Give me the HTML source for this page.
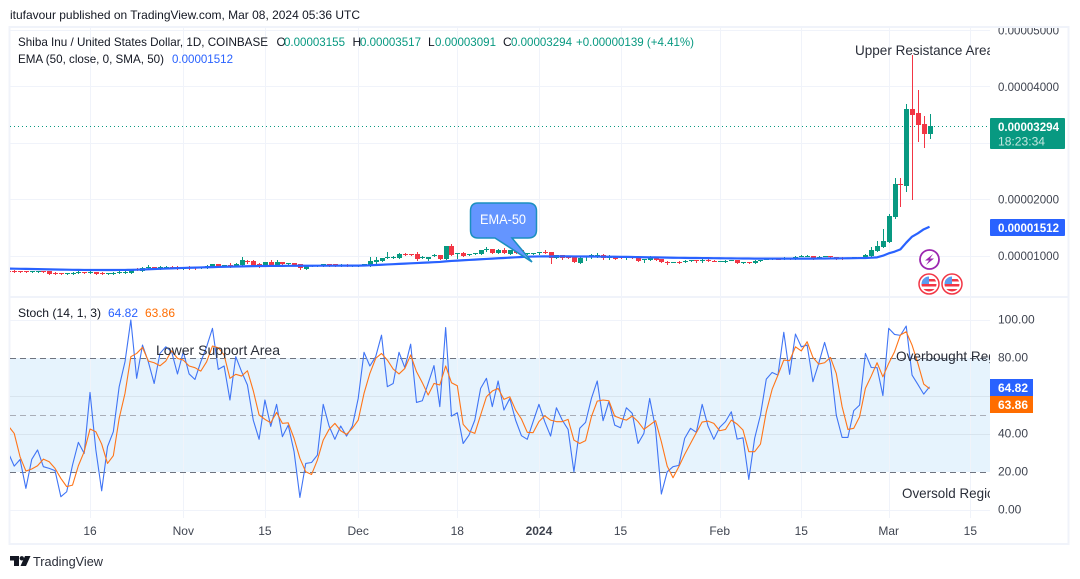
<!DOCTYPE html>
<html lang="en">
<head>
<meta charset="utf-8">
<title>Shiba Inu / United States Dollar chart</title>
<style>
html,body{margin:0;padding:0;background:#fff;width:1080px;height:579px;overflow:hidden}
svg{display:block;font-family:"Liberation Sans",sans-serif}
text{font-size:12px;fill:#131722}
.ax{fill:#3f4450;font-size:12px}
.ann{font-size:14px;fill:#2a2e39}
</style>
</head>
<body>
<svg id="chart" width="1080" height="579" viewBox="0 0 1080 579" xmlns="http://www.w3.org/2000/svg">
  <defs>
    <clipPath id="clip-top"><rect x="10" y="28" width="980" height="268"/></clipPath>
    <clipPath id="clip-bottom"><rect x="10" y="298" width="980" height="220"/></clipPath>
    <clipPath id="clip-axis"><rect x="990" y="28" width="78" height="268"/></clipPath>
    <clipPath id="clip-flag-a"><circle cx="929" cy="284" r="7.5"/></clipPath>
    <clipPath id="clip-flag-b"><circle cx="952" cy="284" r="7.5"/></clipPath>
  </defs>

  <text x="10" y="19" textLength="350" lengthAdjust="spacingAndGlyphs">itufavour published on TradingView.com, Mar 08, 2024 05:36 UTC</text>

  <rect x="9.5" y="27" width="1059" height="517" fill="#fff" stroke="#F0F3FA" stroke-width="2"/>
  <rect x="10" y="296" width="1058" height="2" fill="#F0F3FA"/>

  <rect x="10" y="358" width="980" height="114" fill="#E6F3FD"/>
  <g id="grid"></g>
  <g id="bands"></g>

  <line x1="10" x2="990" y1="126.500" y2="126.500" stroke="#089981" stroke-width="1" stroke-dasharray="1 3"/>

  <g clip-path="url(#clip-top)">
    <g id="candles"></g>
    <path id="ema-line" fill="none" stroke="#2962FF" stroke-width="2.200" stroke-linejoin="round"/>
    <text class="ann" x="855" y="55" textLength="139" lengthAdjust="spacingAndGlyphs">Upper Resistance Area</text>
  </g>

  <g>
    <path d="M478 203 H528 Q536.500 203 536.500 211 V230 Q536.500 238 528 238 H512 L532 262 L495 238 H478 Q470.500 238 470.500 230 V211 Q470.500 203 478 203 Z" fill="#6495FF" stroke="#1B8FBF" stroke-width="1.500"/>
    <text x="480" y="224" textLength="46" lengthAdjust="spacingAndGlyphs" style="font-size:14px;fill:#fff">EMA-50</text>
  </g>

  <g>
    <circle cx="929.500" cy="259.500" r="9.500" fill="#fff" stroke="#9C27B0" stroke-width="1.800"/>
    <polygon points="933,254 925,260.500 929,260.500 926,265 934,258.500 930,258.500" fill="#9C27B0"/>
  </g>
  <g>
    <circle cx="929" cy="284" r="10" fill="#fff" stroke="#F23645" stroke-width="1.500"/>
    <g clip-path="url(#clip-flag-a)">
      <rect x="921" y="276" width="16" height="16" fill="#fff"/>
      <rect x="921" y="279" width="16" height="2.500" fill="#F23645"/>
      <rect x="921" y="284" width="16" height="2.500" fill="#F23645"/>
      <rect x="921" y="289" width="16" height="3" fill="#F23645"/>
      <rect x="921" y="276" width="8" height="8" fill="#5B9CF0"/>
    </g>
  </g>
  <g>
    <circle cx="952" cy="284" r="10" fill="#fff" stroke="#F23645" stroke-width="1.500"/>
    <g clip-path="url(#clip-flag-b)">
      <rect x="944" y="276" width="16" height="16" fill="#fff"/>
      <rect x="944" y="279" width="16" height="2.500" fill="#F23645"/>
      <rect x="944" y="284" width="16" height="2.500" fill="#F23645"/>
      <rect x="944" y="289" width="16" height="3" fill="#F23645"/>
      <rect x="944" y="276" width="8" height="8" fill="#5B9CF0"/>
    </g>
  </g>

  <g clip-path="url(#clip-bottom)">
    <path id="stoch-k" fill="none" stroke="#3F74F5" stroke-width="1.100" stroke-linejoin="round"/>
    <path id="stoch-d" fill="none" stroke="#FF7518" stroke-width="1.100" stroke-linejoin="round"/>
    <text class="ann" x="156" y="355" textLength="124" lengthAdjust="spacingAndGlyphs">Lower Support Area</text>
    <text class="ann" x="896" y="361" textLength="118" lengthAdjust="spacingAndGlyphs">Overbought Region</text>
    <text class="ann" x="902" y="498" textLength="100" lengthAdjust="spacingAndGlyphs">Oversold Region</text>
  </g>

  <g>
    <text x="18" y="46" textLength="250" lengthAdjust="spacingAndGlyphs">Shiba Inu / United States Dollar, 1D, COINBASE</text>
    <text x="276.500" y="46">O</text>
    <text x="284" y="46" textLength="61" lengthAdjust="spacingAndGlyphs" style="fill:#089981">0.00003155</text>
    <text x="352.500" y="46">H</text>
    <text x="360" y="46" textLength="61" lengthAdjust="spacingAndGlyphs" style="fill:#089981">0.00003517</text>
    <text x="428" y="46">L</text>
    <text x="435" y="46" textLength="61" lengthAdjust="spacingAndGlyphs" style="fill:#089981">0.00003091</text>
    <text x="503" y="46">C</text>
    <text x="511" y="46" textLength="61" lengthAdjust="spacingAndGlyphs" style="fill:#089981">0.00003294</text>
    <text x="576" y="46" textLength="118" lengthAdjust="spacingAndGlyphs" style="fill:#089981">+0.00000139 (+4.41%)</text>
    <text x="18" y="63" textLength="146" lengthAdjust="spacingAndGlyphs">EMA (50, close, 0, SMA, 50)</text>
    <text x="172" y="63" textLength="61" lengthAdjust="spacingAndGlyphs" style="fill:#2962FF">0.00001512</text>
    <text x="18" y="317" textLength="83" lengthAdjust="spacingAndGlyphs">Stoch (14, 1, 3)</text>
    <text x="108" y="317" textLength="30" lengthAdjust="spacingAndGlyphs" style="fill:#2962FF">64.82</text>
    <text x="145" y="317" textLength="30" lengthAdjust="spacingAndGlyphs" style="fill:#FF6D00">63.86</text>
  </g>

  <g id="price-axis" clip-path="url(#clip-axis)"></g>
  <g id="stoch-axis"></g>
  <g id="time-axis"></g>

  <g>
    <rect x="990" y="118" width="75" height="31" rx="1" fill="#089981"/>
    <text x="998" y="131" textLength="61" lengthAdjust="spacingAndGlyphs" style="fill:#fff;font-weight:bold">0.00003294</text>
    <text x="998" y="145.500" textLength="47" lengthAdjust="spacingAndGlyphs" style="fill:#C5E8E0">18:23:34</text>
  </g>
  <g>
    <rect x="990" y="219" width="75" height="17" rx="1" fill="#2962FF"/>
    <text x="998" y="232" textLength="61" lengthAdjust="spacingAndGlyphs" style="fill:#fff;font-weight:bold">0.00001512</text>
  </g>
  <g>
    <rect x="990" y="379" width="43" height="17" fill="#2962FF"/>
    <text x="998" y="392" textLength="30" lengthAdjust="spacingAndGlyphs" style="fill:#fff;font-weight:bold">64.82</text>
  </g>
  <g>
    <rect x="990" y="396" width="43" height="17" fill="#FF6D00"/>
    <text x="998" y="409" textLength="30" lengthAdjust="spacingAndGlyphs" style="fill:#fff;font-weight:bold">63.86</text>
  </g>

  <g>
    <path d="M10 556 H19 V566 H14 V560.500 H10 Z" fill="#131722"/>
    <circle cx="21.800" cy="558.300" r="2.200" fill="#131722"/>
    <polygon points="25,556 30.500,556 26,566 20.500,566" fill="#131722"/>
    <text x="33" y="566" textLength="70" lengthAdjust="spacingAndGlyphs" style="font-size:13px;fill:#2a2e39">TradingView</text>
  </g>
</svg>

<script>
const opens = [
727,727,721,721,715,715,721,721,692,686,
680,680,697,703,697,703,692,680,686,697,
709,692,757,733,786,792,763,786,792,792,
757,792,792,786,786,798,851,822,833,822,
839,898,898,851,816,887,833,887,863,869,
845,768,822,822,816,851,845,816,833,822,
822,833,822,893,898,952,958,963,1028,1028,
1034,958,940,993,1005,946,1170,1046,1052,1023,
1028,1034,1111,1117,1052,1100,1028,1094,1094,1040,
1028,1040,1064,1058,952,1011,993,975,863,975,
981,981,1005,963,993,975,969,975,958,928,
928,969,940,881,881,887,881,910,916,898,
916,904,898,898,916,922,881,887,875,910,
940,946,946,940,958,946,987,993,993,963,
987,993,975,963,952,963,969,963,998,1087,
1158,1247,1678,2269,2240,3593,3522,3333,3155];
const highs = [
745,745,727,727,727,727,727,721,703,692,
686,703,733,709,727,709,709,692,709,745,
745,757,780,798,828,798,810,810,810,810,
792,816,798,798,833,851,851,828,869,869,
975,922,922,869,887,922,922,887,869,869,
851,810,828,839,857,857,851,845,851,833,
839,845,969,969,952,1070,999,1040,1046,1034,
1058,993,981,1023,1011,1170,1200,1052,1064,1034,
1052,1100,1147,1123,1117,1129,1094,1106,1100,1052,
1052,1070,1094,1064,1011,1017,999,981,975,993,
1023,1040,1028,1011,999,981,981,981,963,940,
993,975,946,904,893,904,922,922,922,952,
963,922,910,916,928,922,893,893,922,928,
952,963,958,969,963,987,1011,1011,999,987,
999,999,981,969,963,975,981,1028,1158,1259,
1465,1737,2370,2370,3688,4556,3936,3475,3517];
const lows = [
715,709,715,715,709,715,715,674,680,680,
680,674,697,697,686,680,674,680,674,697,
697,692,739,733,757,757,763,786,786,757,
757,757,757,786,786,798,798,822,798,822,
839,869,833,798,816,833,833,851,833,833,
768,768,816,822,816,816,816,816,822,822,
822,833,822,875,898,952,958,952,1005,1005,
922,958,922,993,946,946,1011,963,999,1011,
1028,1034,1082,1052,1052,1052,1028,1046,1034,1023,
1028,1028,1052,863,952,940,952,893,863,922,
952,975,934,946,946,952,946,958,910,893,
928,928,893,857,881,875,881,910,893,887,
910,898,898,892,916,875,875,875,875,910,
940,946,934,940,940,946,987,993,934,952,
987,952,940,946,952,963,969,963,998,1087,
1158,1247,1660,1885,2145,2003,3038,2931,3091];
const closes = [
721,715,715,715,721,721,715,674,680,680,
686,692,709,697,703,680,686,692,692,709,
715,757,739,780,792,757,798,792,786,757,
792,786,786,798,822,851,798,828,828,851,
922,887,833,816,887,833,887,851,869,833,
774,810,828,828,857,816,816,839,822,833,
839,845,904,922,952,975,969,1034,1005,1005,
934,969,981,1011,946,1170,1011,1052,999,1028,
1046,1100,1123,1052,1100,1052,1094,1046,1034,1046,
1046,1064,1052,952,1011,963,952,893,963,987,
1011,1017,958,999,946,952,975,958,910,934,
969,928,893,875,887,875,904,916,904,922,
910,898,904,910,922,875,887,875,904,922,
946,952,934,958,940,975,999,999,952,975,
993,975,940,946,958,969,975,1011,1099,1170,
1259,1702,2269,2257,3599,3493,3315,3155,3294];
const emaValues = [
770,768,766,764,762,760,758,756,754,752,
750,748,747,746,745,745,745,745,745,746,
746,747,750,754,758,762,766,770,774,778,
781,784,787,790,793,796,799,802,805,807,
809,811,813,815,816,817,818,818,819,819,
820,820,820,821,821,821,821,822,822,822,
822,824,828,833,838,843,848,853,858,863,
868,873,878,883,888,898,905,911,917,923,
929,935,941,947,953,958,964,970,975,981,
983,985,986,985,986,987,986,985,984,984,
984,983,981,980,979,978,977,975,973,971,
969,968,966,964,962,961,960,958,957,956,
955,954,953,952,951,950,949,948,947,946,
946,946,946,946,946,946,946,947,947,948,
949,950,951,952,953,954,956,958,
963,969,998,1040,1070,1111,1229,1336,1395,1466,1512];
const stochK = [
30,23.1,26.6,11.4,26.6,31.6,22.8,21.9,20.7,7,
9.6,23.7,35.6,29.8,61.9,31.6,10.1,33.3,41.2,64.9,
78,100,69.3,86.8,78,66.6,82.4,85.9,83.3,71.6,
83.3,71.6,68.7,78,85.9,95.6,74,75.8,57.9,80.7,
72.8,65.8,47.3,37.2,57.9,44,55.6,38.6,44.7,30.7,
6.6,24.5,25,28.9,55.6,44.2,37.2,44.2,38.9,44.2,
58.7,83,75.8,80.7,92,64.9,66.6,83,74.9,87.3,
56.6,57.5,66.6,76,54.4,96,49.4,51.2,35,39.4,
47.3,64,69.3,54.4,67.9,52.6,58.7,47.3,39.1,37.2,
46.5,55.6,46.5,38.9,53.8,47.3,42.4,20.1,43,46.1,
58.7,67.9,47,57,44.7,43.3,53.8,50.9,35,40.3,
58.7,43,8.4,20.1,22.8,23.5,37.7,43,40.9,55.6,
44.2,37.2,43.5,46.5,51.7,37.3,38,16.1,37.7,50,
68.9,72.4,71,93.5,71.4,92.6,85.9,86.8,67.5,77.2,
88.2,77.2,50,38.2,38.2,52.3,55.2,82.4,75,74.9,
60.2,95.6,92.4,91.9,96.8,71,66.1,61,64.82];
const stochD = [
44.2,40.3,28,20.5,21.6,23.3,26.8,25.4,21.9,16.6,
12.3,13.1,23.3,30.7,42.6,41.2,34.7,24.5,28.6,48.2,
61.4,80.7,82.4,85.6,78.4,77.5,75.9,78.4,83.8,79.8,
78.9,75.8,74.9,73.1,78,86.3,85.4,81.6,69.3,71.4,
70.5,73.3,62.8,50,47.7,45.9,51.4,45.6,45.9,37.7,
27.2,20.1,18.7,26.3,36.8,42.4,45.6,41.7,39.8,43,
47.3,61.4,71.9,79.8,82.4,78.9,74.2,71.6,74.5,81.6,
72.8,67,60.5,66.6,65.8,75.8,67,65.4,45.1,41.6,
40.3,50,59.6,62.6,64,58.2,59.6,52.6,47.9,40.9,
40.7,46.5,49.6,47.3,46.5,46.5,47.7,36.8,35,36.5,
49.1,57.3,57.9,57.5,49.4,48.2,47.3,49.4,46.5,42.4,
44.7,47,35.9,23.1,17,22.8,29.3,35,40.7,46.3,
46.8,45.6,41.7,42.4,47.3,45.2,42.1,30.7,30.7,34.7,
51.7,63.5,71,78.9,78.6,85.9,83.7,88.6,80.3,76.8,
77.5,80.3,71.9,54.4,42.4,43,49.1,64,70.5,77.5,
70.1,77.2,83.3,92.1,93.8,86.8,77.2,66.3,63.86];
const priceTicks = [5000, 4000, 2000, 1000];
const priceGrid = [5000, 4000, 3000, 2000, 1000];
const stochTicks = [100, 80, 60, 40, 20, 0];
const stochGrid = [100, 60, 40, 0];
const bandLevels = [80, 50, 20];
const timeLabels = ['16', 'Nov', '15', 'Dec', '18', '2024', '15', 'Feb', '15', 'Mar', '15'];
const timeBars = [14, 30, 44, 60, 77, 91, 105, 122, 136, 151, 165];

const NS = 'http://www.w3.org/2000/svg';
const xAt = i => 8.4 + 5.83 * i;
const priceY = v => 255.6 - (v - 1000) * 0.0564;
const stochY = v => 510 - v * 1.9;
const make = (tag, attrs, parent, txt) => {
  const el = document.createElementNS(NS, tag);
  for (const k in attrs) el.setAttribute(k, attrs[k]);
  if (txt !== undefined) el.textContent = txt;
  parent.appendChild(el);
  return el;
};
const lineD = (vals, yFn) => vals.map((v, i) => (i ? 'L' : 'M') + xAt(i).toFixed(2) + ' ' + yFn(v).toFixed(2)).join('');

const grid = document.getElementById('grid');
timeBars.forEach(b => {
  const x = Math.round(xAt(b)) + 0.5;
  const el = make('line', {x1: x, x2: x, y1: 28, y2: 518, stroke: '#F0F3FA', 'stroke-width': 1}, grid);
  
  
});
priceGrid.forEach(v => {
  const y = Math.round(priceY(v)) + 0.5;
  const el = make('line', {x1: 10, x2: 990, y1: y, y2: y, stroke: '#F0F3FA', 'stroke-width': 1}, grid);
  
  
});
stochGrid.forEach(v => {
  const y = Math.round(stochY(v)) + 0.5;
  const el = make('line', {x1: 10, x2: 990, y1: y, y2: y, stroke: v === 60 || v === 40 ? '#D8E4EE' : '#F0F3FA', 'stroke-width': 1}, grid);
  
  
});

const bands = document.getElementById('bands');
bandLevels.forEach(v => {
  const y = Math.round(stochY(v)) + 0.5;
  const el = make('line', {x1: 10, x2: 990, y1: y, y2: y, stroke: v === 50 ? '#A9AEB8' : '#6F7480', 'stroke-width': 1, 'stroke-dasharray': '6 4'}, bands);
  
  
});

const candles = document.getElementById('candles');
opens.forEach((o, i) => {
  const c = closes[i];
  const color = c >= o ? '#089981' : '#F23645';
  const x = Math.round(xAt(i));
  const g = make('g', {}, candles);
  
  
  make('line', {x1: x + 0.5, x2: x + 0.5, y1: Math.round(priceY(highs[i])), y2: Math.round(priceY(lows[i])) + 1, stroke: color, 'stroke-width': 1}, g);
  const top = Math.round(priceY(Math.max(o, c)));
  const h = Math.max(1, Math.round(priceY(Math.min(o, c))) - top);
  make('rect', {x: x - 2, y: top, width: 5, height: h, fill: color}, g);
});

document.getElementById('ema-line').setAttribute('d', lineD(emaValues, priceY));
document.getElementById('stoch-k').setAttribute('d', lineD(stochK, stochY));
document.getElementById('stoch-d').setAttribute('d', lineD(stochD, stochY));

const priceAxis = document.getElementById('price-axis');
priceTicks.forEach(v => {
  const el = make('text', {x: 998, y: priceY(v) + 4.5, textLength: 61, lengthAdjust: 'spacingAndGlyphs', class: 'ax'}, priceAxis, (v / 1e8).toFixed(8));
  
  
});
const stochAxis = document.getElementById('stoch-axis');
stochTicks.forEach(v => {
  const el = make('text', {x: 998, y: stochY(v) + 3.5, class: 'ax'}, stochAxis, v.toFixed(2));
  
  
});
const timeAxis = document.getElementById('time-axis');
timeLabels.forEach((t, n) => {
  const el = make('text', {x: xAt(timeBars[n]), y: 535, 'text-anchor': 'middle', class: 'ax'}, timeAxis, t);
  
  
  if (t === '2024') el.style.fontWeight = 'bold';
});
</script>
</body>
</html>
